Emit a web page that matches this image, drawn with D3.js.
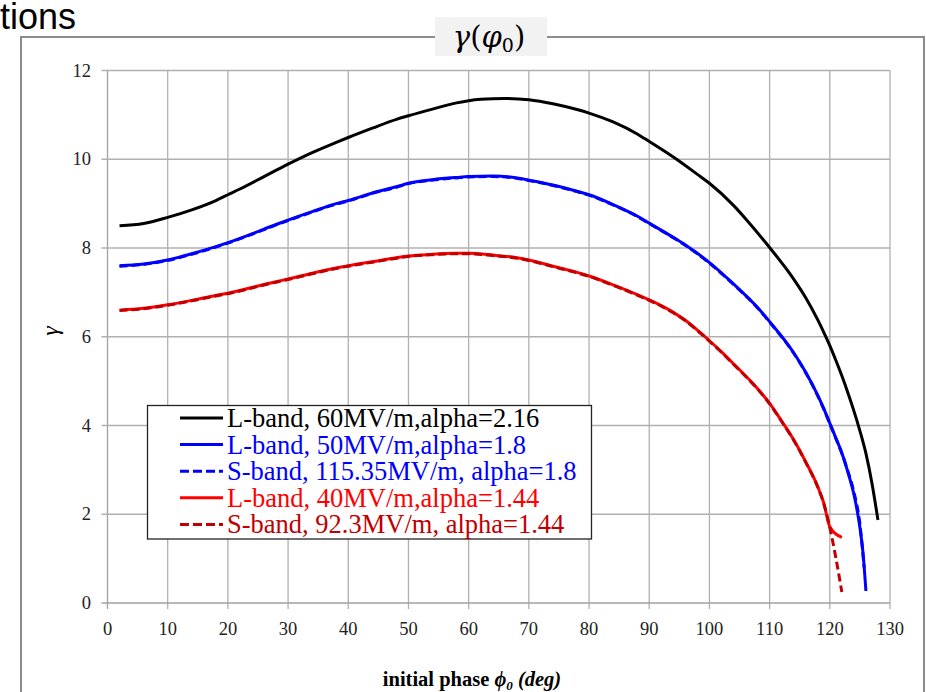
<!DOCTYPE html>
<html>
<head>
<meta charset="utf-8">
<script src="https://cdn.jsdelivr.net/npm/d3@7"></script>
<style>
  html, body { margin: 0; padding: 0; background: #fff; overflow: hidden; }
  text { font-family: "Liberation Serif", "Times New Roman", serif; }
</style>
</head>
<body>
<div id="chart"></div>
<script>
// values
var xTicks = [0, 10, 20, 30, 40, 50, 60, 70, 80, 90, 100, 110, 120, 130],
    yTicks = [0, 2, 4, 6, 8, 10, 12];

var phaseL60 = [2, 6, 10, 14, 18, 20, 22, 26, 30, 34, 38, 40, 44, 48, 50, 54, 58, 60, 62, 66, 70, 74, 78, 80, 84, 88, 90, 94, 98, 100, 104, 106, 110, 114, 116, 118, 119, 120, 121, 122, 123, 124, 125, 126, 127, 128],
    gammaL60 = [8.50, 8.55, 8.69, 8.86, 9.07, 9.20, 9.33, 9.61, 9.89, 10.15, 10.38, 10.49, 10.70, 10.90, 10.98, 11.13, 11.27, 11.32, 11.35, 11.37, 11.34, 11.25, 11.12, 11.04, 10.84, 10.57, 10.40, 10.05, 9.66, 9.46, 8.96, 8.66, 8.01, 7.30, 6.88, 6.38, 6.10, 5.80, 5.47, 5.12, 4.74, 4.33, 3.88, 3.37, 2.70, 1.87];

var phaseL50 = [2, 6, 10, 14, 18, 20, 24, 28, 30, 34, 38, 40, 44, 48, 50, 54, 58, 60, 64, 68, 70, 74, 78, 80, 84, 88, 90, 94, 96, 98, 100, 104, 108, 110, 114, 116, 118, 119, 120, 121, 122, 123, 124, 125, 125.5, 126],
    gammaL50 = [7.60, 7.64, 7.73, 7.87, 8.03, 8.12, 8.32, 8.53, 8.63, 8.82, 9.00, 9.07, 9.24, 9.38, 9.46, 9.54, 9.59, 9.61, 9.62, 9.58, 9.53, 9.42, 9.28, 9.20, 8.98, 8.72, 8.56, 8.24, 8.07, 7.88, 7.67, 7.19, 6.66, 6.34, 5.64, 5.20, 4.68, 4.38, 4.05, 3.72, 3.38, 2.95, 2.45, 1.70, 1.15, 0.27];

var phaseS115 = [2, 6, 10, 14, 18, 20, 24, 28, 30, 34, 38, 40, 44, 48, 50, 54, 58, 60, 64, 68, 70, 74, 78, 80, 84, 88, 90, 94, 96, 98, 100, 104, 108, 110, 114, 116, 118, 119, 120, 121, 122, 123, 124, 125, 125.7],
    gammaS115 = [7.59, 7.63, 7.72, 7.86, 8.02, 8.11, 8.31, 8.52, 8.62, 8.81, 8.99, 9.06, 9.23, 9.37, 9.45, 9.53, 9.58, 9.60, 9.61, 9.57, 9.52, 9.41, 9.27, 9.19, 8.97, 8.71, 8.55, 8.23, 8.06, 7.87, 7.66, 7.18, 6.65, 6.33, 5.63, 5.19, 4.67, 4.37, 4.04, 3.71, 3.37, 2.97, 2.50, 1.78, 0.80];

var phaseL40 = [2, 6, 10, 14, 18, 20, 24, 28, 30, 34, 38, 40, 44, 48, 50, 54, 58, 60, 64, 68, 70, 74, 78, 80, 84, 88, 90, 92, 94, 96, 98, 100, 102, 104, 108, 110, 112, 114, 116, 118, 119, 120, 122],
    gammaL40 = [6.60, 6.64, 6.72, 6.82, 6.93, 6.98, 7.11, 7.24, 7.30, 7.43, 7.55, 7.60, 7.69, 7.78, 7.82, 7.86, 7.88, 7.88, 7.84, 7.78, 7.73, 7.59, 7.45, 7.37, 7.17, 6.95, 6.83, 6.70, 6.55, 6.37, 6.15, 5.91, 5.66, 5.39, 4.83, 4.50, 4.10, 3.68, 3.18, 2.62, 2.25, 1.72, 1.48];

var phaseS92 = [2, 6, 10, 14, 18, 20, 24, 28, 30, 34, 38, 40, 44, 48, 50, 54, 58, 60, 64, 68, 70, 74, 78, 80, 84, 88, 90, 92, 94, 96, 98, 100, 102, 104, 108, 110, 112, 114, 116, 118, 119, 120, 122],
    gammaS92 = [6.59, 6.63, 6.71, 6.81, 6.92, 6.97, 7.10, 7.23, 7.29, 7.42, 7.54, 7.59, 7.68, 7.77, 7.81, 7.85, 7.87, 7.87, 7.83, 7.77, 7.72, 7.58, 7.44, 7.36, 7.16, 6.94, 6.82, 6.69, 6.54, 6.36, 6.14, 5.90, 5.65, 5.38, 4.82, 4.49, 4.09, 3.67, 3.17, 2.61, 2.24, 1.70, 0.25];

var seriesNames = ["L-band, 60MV/m,alpha=2.16", "L-band, 50MV/m,alpha=1.8", "S-band, 115.35MV/m, alpha=1.8", "L-band, 40MV/m,alpha=1.44", "S-band, 92.3MV/m, alpha=1.44"],
    seriesColors = ["#000000", "#0000ff", "#0000ff", "#ff0000", "#c00000"],
    seriesDashed = [false, false, true, false, true];

var series = [
  {phase: phaseL60, gamma: gammaL60},
  {phase: phaseL50, gamma: gammaL50},
  {phase: phaseS115, gamma: gammaS115},
  {phase: phaseL40, gamma: gammaL40},
  {phase: phaseS92, gamma: gammaS92}
].map(function(s, i){
  return {
    name: seriesNames[i], color: seriesColors[i], dashed: seriesDashed[i],
    points: s.phase.map(function(p, j){ return [p, s.gamma[j]]; })
  };
});

var width = 926, height = 692;

var svg = d3.select("#chart").append("svg")
  .attr("width", width)
  .attr("height", height);

// slide title peeking in from the left
svg.append("text")
  .attr("x", 0).attr("y", 29)
  .style("font-family", "'Liberation Sans', Arial, sans-serif")
  .attr("font-size", 36)
  .attr("fill", "#000")
  .text("tions");

// outer frame of the pasted chart
svg.append("rect")
  .attr("x", 21).attr("y", 37)
  .attr("width", 903).attr("height", 670)
  .attr("fill", "#fff")
  .attr("stroke", "#8c8c8c")
  .attr("stroke-width", 2);

var x = d3.scaleLinear().domain([0, 130]).range([107.5, 890]);
var y = d3.scaleLinear().domain([0, 12]).range([603, 70.5]);

var grid = svg.append("g").attr("class", "grid");

grid.selectAll("line.v")
  .data(xTicks)
  .enter().append("line")
    .attr("class", "v")
    .attr("x1", function(d){ return x(d); })
    .attr("x2", function(d){ return x(d); })
    .attr("y1", y(12))
    .attr("y2", y(0) + 6)
    .attr("stroke", function(d){ return d === 0 ? "#a0a0a0" : "#b0b0b0"; })
    .attr("stroke-width", 1.3);

grid.selectAll("line.h")
  .data(yTicks)
  .enter().append("line")
    .attr("class", "h")
    .attr("x1", x(0) - 6)
    .attr("x2", x(130))
    .attr("y1", function(d){ return y(d); })
    .attr("y2", function(d){ return y(d); })
    .attr("stroke", function(d){ return d === 0 ? "#a0a0a0" : "#b0b0b0"; })
    .attr("stroke-width", 1.3);

// tick labels
svg.append("g").selectAll("text")
  .data(xTicks)
  .enter().append("text")
    .attr("x", function(d){ return x(d); })
    .attr("y", 635)
    .attr("text-anchor", "middle")
    .attr("font-size", 18.5)
    .attr("fill", "#222")
    .text(function(d){ return d; });

svg.append("g").selectAll("text")
  .data(yTicks)
  .enter().append("text")
    .attr("x", 91)
    .attr("y", function(d){ return y(d) + 6; })
    .attr("text-anchor", "end")
    .attr("font-size", 18.5)
    .attr("fill", "#222")
    .text(function(d){ return d; });

// axis titles
svg.append("text")
  .attr("transform", "translate(58,331) rotate(-90)")
  .attr("text-anchor", "middle")
  .attr("font-size", 24)
  .attr("font-style", "italic")
  .attr("fill", "#000")
  .text("γ");

var xl = svg.append("text")
  .attr("x", 472).attr("y", 686)
  .attr("text-anchor", "middle")
  .attr("font-size", 20.5)
  .attr("font-weight", "bold")
  .attr("fill", "#000");
xl.append("tspan").text("initial phase ");
xl.append("tspan").attr("font-style", "italic").text("ϕ");
xl.append("tspan").attr("font-style", "italic").attr("font-size", 13).attr("dy", 4).text("0");
xl.append("tspan").attr("font-style", "italic").attr("dy", -4).text(" (deg)");

// curves
var line = d3.line()
  .x(function(d){ return x(d[0]); })
  .y(function(d){ return y(d[1]); })
  .curve(d3.curveMonotoneX);

svg.append("g").selectAll("path")
  .data(series)
  .enter().append("path")
    .attr("d", function(d){ return line(d.points); })
    .attr("fill", "none")
    .attr("stroke", function(d){ return d.color; })
    .attr("stroke-width", 3)
    .attr("stroke-linejoin", "round")
    .attr("stroke-dasharray", function(d){ return d.dashed ? "8,4" : null; });

// legend
var legend = svg.append("g").attr("class", "legend");
legend.append("rect")
  .attr("x", 147.5).attr("y", 405.5)
  .attr("width", 444).attr("height", 133.5)
  .attr("fill", "#fff")
  .attr("stroke", "#222")
  .attr("stroke-width", 1.3);

var rows = legend.selectAll("g.row")
  .data(series)
  .enter().append("g")
    .attr("class", "row")
    .attr("transform", function(d, i){ return "translate(0," + (418 + i * 26.6) + ")"; });

rows.append("line")
  .attr("x1", 180).attr("x2", 223)
  .attr("y1", 0).attr("y2", 0)
  .attr("stroke", function(d){ return d.color; })
  .attr("stroke-width", 3)
  .attr("stroke-dasharray", function(d){ return d.dashed ? "9,4" : null; });

rows.append("text")
  .attr("x", 227).attr("y", 9)
  .attr("font-size", 26.5)
  .attr("fill", function(d){ return d.color; })
  .text(function(d){ return d.name; });

// title badge over the frame
svg.append("rect")
  .attr("x", 435).attr("y", 17)
  .attr("width", 112).attr("height", 39)
  .attr("fill", "#f2f2f2");

var t = svg.append("text")
  .attr("x", 489).attr("y", 47)
  .attr("text-anchor", "middle")
  .style("font-family", "'DejaVu Serif', serif")
  .attr("font-size", 29)
  .attr("fill", "#000");
t.append("tspan").attr("font-style", "italic").text("γ");
t.append("tspan").text("(");
t.append("tspan").attr("font-style", "italic").text("φ");
t.append("tspan").attr("font-size", 19).attr("dy", 5).text("0");
t.append("tspan").attr("dy", -5).text(")");
</script>
</body>
</html>
